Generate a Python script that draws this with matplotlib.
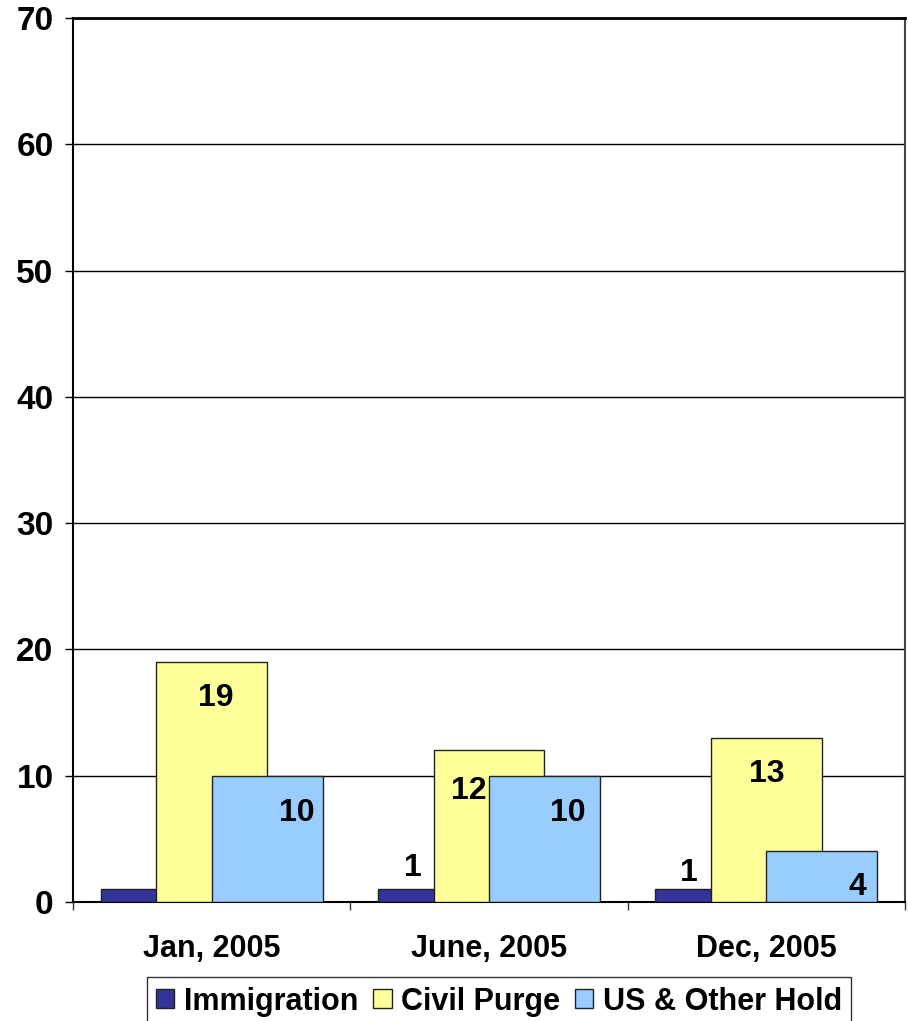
import matplotlib.pyplot as plt
from matplotlib.ticker import FixedLocator

plt.rcParams['font.family'] = ['Liberation Sans', 'DejaVu Sans']
plt.rcParams['font.weight'] = 'bold'

# dados do gráfico
categories = ['Jan, 2005', 'June, 2005', 'Dec, 2005']
series_names = ['Immigration', 'Civil Purge', 'US & Other Hold']
immigration = [1, 1, 1]
civil_purge = [19, 12, 13]
us_other_hold = [10, 10, 4]
# rótulos visíveis (None = sem rótulo)
imm_labels = [None, 1, 1]
civil_labels = [19, 12, 13]
us_labels = [10, 10, 4]

colors = ['#333399', '#FFFF99', '#99CCFF']
# deslocamento dos rótulos em pixels (dx, dy) relativo ao topo da barra
label_offsets = [
    [None, (-21, 21), (-22, 16)],
    [(4, -36), (-20, -41), (0, -36)],
    [(30, -37), (23, -37), (36, -36)],
]

fig = plt.figure(figsize=(9.08, 10.21), dpi=100)
ax = fig.add_axes([73 / 908, 119 / 1021, 832 / 908, 884 / 1021])

x = list(range(len(categories)))
width = 0.4
offsets = [-0.2, 0.0, 0.2]
series = [immigration, civil_purge, us_other_hold]
labels = [imm_labels, civil_labels, us_labels]

for i, (vals, name, c, off) in enumerate(zip(series, series_names, colors, offsets)):
    ax.bar([xi + off for xi in x], vals, width=width, color=c, edgecolor='#222222',
           linewidth=1.0, label=name, zorder=3 + i)
    for j, lab in enumerate(labels[i]):
        if lab is None:
            continue
        dx, dy = label_offsets[i][j]
        ax.annotate(str(lab), (x[j] + off, vals[j]), xytext=(dx, dy),
                    textcoords='offset pixels', ha='center', va='center',
                    fontsize=23, fontweight='bold', zorder=10)

ax.set_xlim(-0.5, 2.5)
ax.set_ylim(0, 70)
ax.set_yticks(range(0, 71, 10))
ax.yaxis.grid(True, color='black', linewidth=1.0, zorder=0)
ax.set_axisbelow(True)

ax.set_xticks(x)
ax.set_xticklabels(categories, fontsize=22, fontweight='bold')
ax.xaxis.set_minor_locator(FixedLocator([-0.5, 0.5, 1.5, 2.5]))
ax.tick_params(axis='x', which='major', length=0, pad=23)
ax.tick_params(axis='x', which='minor', length=6, width=1, color='#333333')
ax.tick_params(axis='y', length=6, width=1, labelsize=24, pad=8)
for lab in ax.get_yticklabels():
    lab.set_fontweight('bold')

ax.spines['left'].set_linewidth(1.5)
ax.spines['bottom'].set_linewidth(1.5)
ax.spines['top'].set_linewidth(2)
ax.spines['right'].set_color('#444444')
ax.spines['right'].set_linewidth(1.5)

leg = fig.legend(loc='lower center', bbox_to_anchor=(499 / 908, -20 / 1021), ncol=3,
                 frameon=True, fancybox=False, edgecolor='black',
                 handlelength=0.6, handleheight=0.6, handletextpad=0.3,
                 columnspacing=0.5, borderpad=0.3, prop={'weight': 'bold', 'size': 22})
leg.get_frame().set_linewidth(1.0)

fig.savefig('out.png', dpi=100)
